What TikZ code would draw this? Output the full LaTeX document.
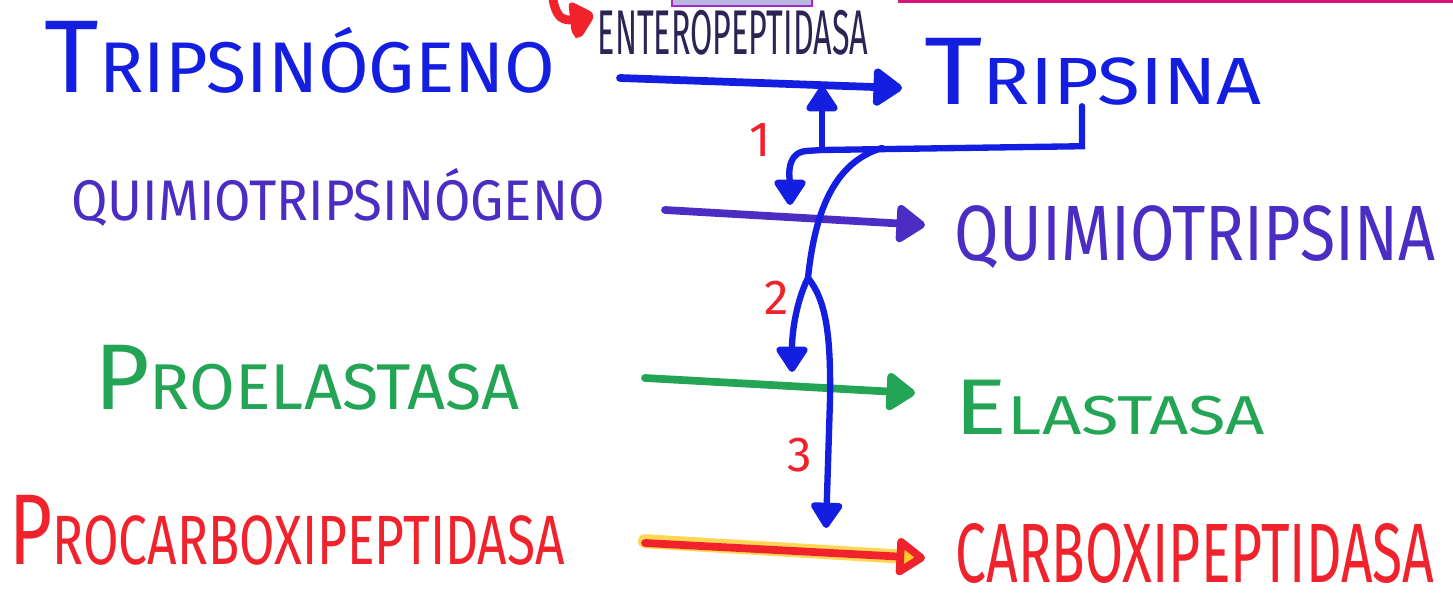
\documentclass[tikz,border=0pt]{standalone}
\usepackage{graphicx}
\usepackage{fontspec}
\setmainfont{Fira Sans}
\usetikzlibrary{arrows.meta, positioning}
\definecolor{penblue}{RGB}{20,30,225}
\definecolor{penpurple}{RGB}{75,45,195}
\definecolor{pengreen}{RGB}{35,165,85}
\definecolor{penred}{RGB}{240,35,45}
\definecolor{penyellow}{RGB}{255,205,40}
\definecolor{pennavy}{RGB}{45,35,85}
\definecolor{lavbox}{RGB}{184,184,226}
\definecolor{lavedge}{RGB}{170,40,200}
\definecolor{magline}{RGB}{215,20,120}
\newcommand{\handtext}[3]{\resizebox*{#1}{#2}{#3}}
\tikzset{
    lbl/.style={inner sep=0pt},
    num/.style={inner sep=0pt, text=penred, font=\fontsize{14}{14}\selectfont},
    reaction/.style={line width=2.2pt, line cap=round,
                     -{Triangle[length=9pt, width=12pt, round]}},
    actarrow/.style={draw=penblue, line width=1.8pt, line cap=round,
                     -{Triangle[length=8pt, width=10pt, round]}},
}
\begin{document}
\begin{tikzpicture}[x=0.01cm, y=-0.01cm]
    \useasboundingbox[fill=white] (0,0) rectangle (1453,603);
    % bits at the top edge
    \filldraw[fill=lavbox, draw=lavedge, line width=0.8pt] (672,-3) rectangle (812,6);
    \fill[magline] (898,0) rectangle (1453,3);
    \fill[penred, rounded corners=2pt] (568,0) -- (596,14) -- (580,40) -- (572,36) -- cycle;
    \draw[penred, line width=2.5pt, line cap=round] (553,0) .. controls (556,14) and (560,20) .. (570,20);

    % zymogens and enzymes
    \node[lbl, text=penblue] (tripgen) at (300,57)
        {\handtext{5.10cm}{0.72cm}{{\Large T}RIPSINÓGENO}};
    \node[lbl, text=pennavy] (entero) at (733,33)
        {\handtext{2.70cm}{0.45cm}{ENTEROPEPTIDASA}};
    \node[lbl, text=penblue] (trip) at (1093,72)
        {\handtext{3.37cm}{0.67cm}{{\Large T}RIPSINA}};
    \node[lbl, text=penpurple] (quimgen) at (338,197)
        {\handtext{5.33cm}{0.58cm}{QUIMIOTRIPSINÓGENO}};
    \node[lbl, text=penpurple] (quim) at (1195,237)
        {\handtext{4.80cm}{0.63cm}{QUIMIOTRIPSINA}};
    \node[lbl, text=pengreen] (proela) at (307,378)
        {\handtext{4.25cm}{0.65cm}{{\Large P}ROELASTASA}};
    \node[lbl, text=pengreen] (ela) at (1110,408)
        {\handtext{3.10cm}{0.55cm}{{\Large E}LASTASA}};
    \node[lbl, text=penred] (procarb) at (287,530)
        {\handtext{5.55cm}{0.70cm}{{\Large P}ROCARBOXIPEPTIDASA}};
    \node[lbl, text=penred] (carb) at (1195,553)
        {\handtext{4.78cm}{0.60cm}{CARBOXIPEPTIDASA}};

    % step numbers
    \node[num] (n1) at (760,140) {1};
    \node[num] (n2) at (777,298) {2};
    \node[num] (n3) at (800,455) {3};

    % arrow ends
    \coordinate (r1s) at (620,78);  \coordinate (r1e) at (902,88);
    \coordinate (r2s) at (665,210); \coordinate (r2e) at (925,225);
    \coordinate (r3s) at (645,378); \coordinate (r3e) at (915,393);
    \coordinate (r4s) at (645,543); \coordinate (r4e) at (925,558);
    \coordinate (bend) at (808,278);

    \draw[reaction, draw=penblue, fill=penblue] (r1s) -- (r1e);
    \draw[reaction, draw=penpurple, fill=penpurple] (r2s) -- (r2e);
    \draw[reaction, draw=pengreen, fill=pengreen] (r3s) -- (r3e);
    \draw[line width=4pt, penyellow!80!white, line cap=round] ([yshift=0.5pt]r4s) -- ([xshift=-0.3cm, yshift=0.5pt]r4e);
    \draw[draw=penred, line width=2.2pt, line cap=round,
          -{Triangle[length=9pt, width=12pt, round, fill=penyellow]}] (r4s) -- (r4e);

    % trypsin activates the others
    \draw[actarrow] ([xshift=-0.11cm]trip.south) -- ++(0,40) -- (822,150)
        -- (806,151) to[out=185, in=90] (790,205);
    \draw[actarrow] (822,150) -- (822,86);
    \draw[actarrow] (882,148) .. controls (835,162) and (815,210) .. (bend)
        .. controls (826,300) and (831,335) .. (830,400) -- (826,528);
    \draw[actarrow] (bend) .. controls (797,300) and (792,330) .. (792,372);
\end{tikzpicture}
\end{document}
